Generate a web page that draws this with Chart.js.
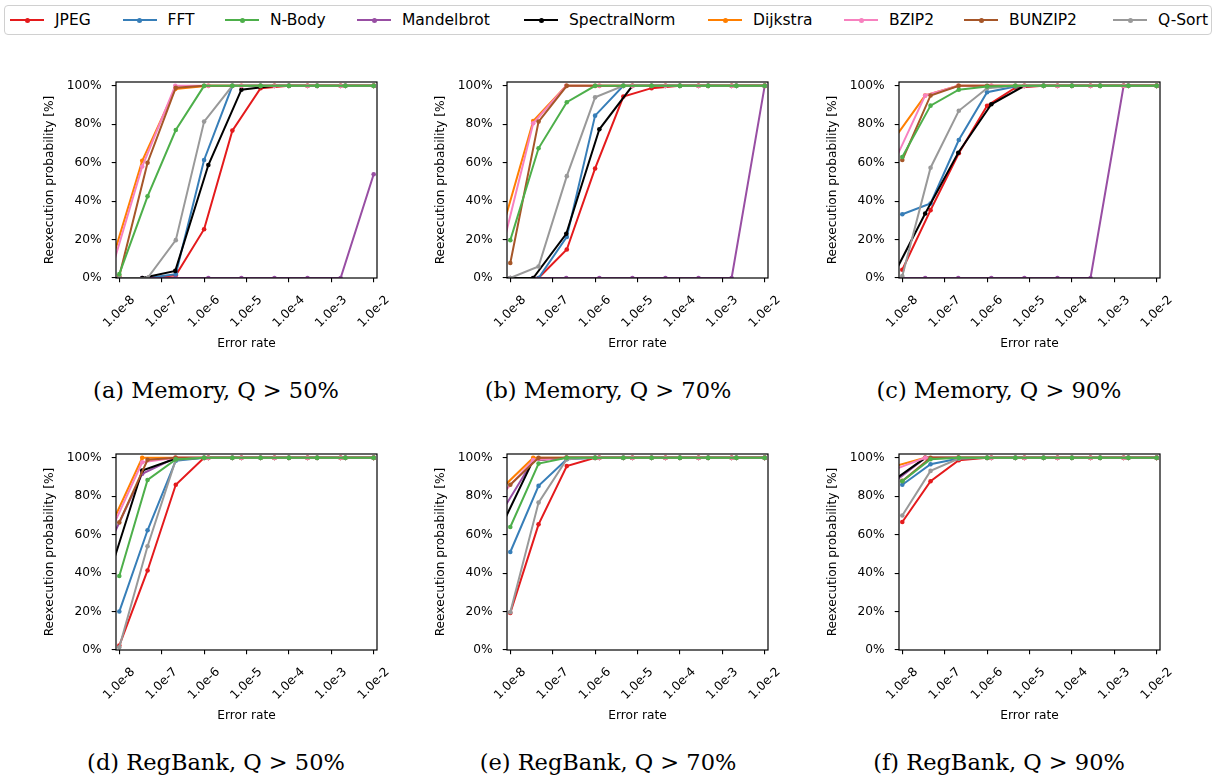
<!DOCTYPE html>
<html>
<head>
<meta charset="utf-8">
<script src="https://cdn.jsdelivr.net/npm/chart.js@4.4.1/dist/chart.umd.min.js"></script>
<style>
  html, body { margin: 0; padding: 0; background: #fff; overflow: hidden; }
  #page { position: absolute; left: 0; top: 0; width: 1217px; height: 783px; }
  #legend { position: absolute; left: 4px; top: 5px; width: 1206px; height: 28px; border: 1px solid #d0d0d0; border-radius: 4px;
            font-family: 'DejaVu Sans'; font-size: 15.5px; color: #000; }
  .item { position: absolute; top: 0; height: 28px; display: flex; align-items: center; white-space: nowrap; }
  .swatch { position: relative; width: 34px; height: 2px; margin-right: 11px; }
  .swatch i { position: absolute; left: 14.5px; top: -1.5px; width: 5px; height: 5px; border-radius: 50%; }
  canvas { position: absolute; }
  .cap { position: absolute; width: 360px; text-align: center; font-family: 'DejaVu Serif'; font-size: 22.5px; line-height: 22.5px; white-space: nowrap; color: #000; }
</style>
</head>
<body>
<div id="page">
  <div id="legend"></div>
</div>
<script>
// series, in legend order
const seriesNames = ['JPEG', 'FFT', 'N-Body', 'Mandelbrot', 'SpectralNorm', 'Dijkstra', 'BZIP2', 'BUNZIP2', 'Q-Sort'];
const seriesColors = ['#e41a1c', '#377eb8', '#4daf4a', '#984ea3', '#000000', '#ff7f00', '#f781bf', '#a65628', '#999999'];

// two error-rate sweeps (the benchmarks were sampled on one or the other)
const ratesA = [1e-8, 4.64e-8, 2.15e-7, 1e-6, 4.64e-6, 2.15e-5, 1e-4, 4.64e-4, 2.15e-3, 1e-2];
const ratesB = [5.75e-9, 3.47e-8, 2.09e-7, 1.26e-6, 7.59e-6, 4.57e-5, 2.75e-4, 1.66e-3, 1e-2];
const seriesSweep = ['A', 'A', 'A', 'B', 'B', 'B', 'B', 'A', 'A'];

const rateTicks = [1e-8, 1e-7, 1e-6, 1e-5, 1e-4, 1e-3, 1e-2];
const rateLabels = ['1.0e-8', '1.0e-7', '1.0e-6', '1.0e-5', '1.0e-4', '1.0e-3', '1.0e-2'];
const probTicks = [0, 20, 40, 60, 80, 100];

// reexecution probability [%], rows in legend order
const mem50 = [
  [0, 0, 1.4, 25.4, 76.7, 98.8, 100, 100, 100, 100],
  [0, 0, 2, 61.4, 100, 100, 100, 100, 100, 100],
  [2, 42.5, 77, 100, 100, 100, 100, 100, 100, 100],
  [0, 0, 0, 0, 0, 0, 0, 0, 54],
  [0, 0, 3.7, 58.8, 98, 100, 100, 100, 100],
  [4, 61, 98.4, 100, 100, 100, 100, 100, 100],
  [0, 58, 100, 100, 100, 100, 100, 100, 100],
  [1, 60, 99, 100, 100, 100, 100, 100, 100, 100],
  [0, 0, 19.7, 81.4, 100, 100, 100, 100, 100, 100]
];
const mem70 = [
  [0, 0, 14.8, 57, 94.4, 98.8, 100, 100, 100, 100],
  [0, 0, 21.4, 84.5, 100, 100, 100, 100, 100, 100],
  [19.7, 67.5, 91.5, 100, 100, 100, 100, 100, 100, 100],
  [0, 0, 0, 0, 0, 0, 0, 0, 100],
  [0, 0, 23, 77.4, 100, 100, 100, 100, 100],
  [21.6, 81.7, 100, 100, 100, 100, 100, 100, 100],
  [11, 80.5, 100, 100, 100, 100, 100, 100, 100],
  [7.8, 81.4, 100, 100, 100, 100, 100, 100, 100, 100],
  [0, 6, 53, 94, 100, 100, 100, 100, 100, 100]
];
const mem90 = [
  [4.3, 35.3, 64.9, 89.6, 99, 100, 100, 100, 100, 100],
  [33.2, 38.8, 71.8, 96.7, 99.6, 100, 100, 100, 100, 100],
  [63, 89.7, 98, 99.6, 100, 100, 100, 100, 100, 100],
  [0, 0, 0, 0, 0, 0, 0, 100, 100],
  [0, 33.6, 65.2, 90.4, 100, 100, 100, 100, 100],
  [71, 95, 100, 100, 100, 100, 100, 100, 100],
  [58, 95, 100, 100, 100, 100, 100, 100, 100],
  [61.4, 95, 100, 100, 100, 100, 100, 100, 100, 100],
  [1, 57.4, 87, 98.8, 100, 100, 100, 100, 100, 100]
];
const reg50 = [
  [2.3, 41.4, 86, 100, 100, 100, 100, 100, 100, 100],
  [20, 62.3, 98.5, 100, 100, 100, 100, 100, 100, 100],
  [38.5, 88.5, 99.2, 100, 100, 100, 100, 100, 100, 100],
  [55, 91.7, 100, 100, 100, 100, 100, 100, 100],
  [39, 93.4, 99.5, 100, 100, 100, 100, 100, 100],
  [62.6, 100, 100, 100, 100, 100, 100, 100, 100],
  [60, 97.7, 100, 100, 100, 100, 100, 100, 100],
  [66.4, 99, 100, 100, 100, 100, 100, 100, 100, 100],
  [1.4, 54, 99, 100, 100, 100, 100, 100, 100, 100]
];
const reg70 = [
  [19.3, 65.4, 95.7, 100, 100, 100, 100, 100, 100, 100],
  [51, 85.4, 99.3, 100, 100, 100, 100, 100, 100, 100],
  [64, 97, 100, 100, 100, 100, 100, 100, 100, 100],
  [70.6, 98.8, 100, 100, 100, 100, 100, 100, 100],
  [63, 98.8, 100, 100, 100, 100, 100, 100, 100],
  [83.3, 100, 100, 100, 100, 100, 100, 100, 100],
  [80, 98.8, 100, 100, 100, 100, 100, 100, 100],
  [86, 100, 100, 100, 100, 100, 100, 100, 100, 100],
  [19.7, 76.7, 99.3, 100, 100, 100, 100, 100, 100, 100]
];
const reg90 = [
  [66.6, 87.8, 98.8, 100, 100, 100, 100, 100, 100, 100],
  [86, 96.7, 99.6, 100, 100, 100, 100, 100, 100, 100],
  [87.8, 99.3, 100, 100, 100, 100, 100, 100, 100, 100],
  [86.6, 100, 100, 100, 100, 100, 100, 100, 100],
  [87.7, 100, 100, 100, 100, 100, 100, 100, 100],
  [95.3, 100, 100, 100, 100, 100, 100, 100, 100],
  [93.5, 100, 100, 100, 100, 100, 100, 100, 100],
  [88, 100, 100, 100, 100, 100, 100, 100, 100, 100],
  [70, 93.2, 99.6, 100, 100, 100, 100, 100, 100, 100]
];

const panelCaptions = ['(a) Memory, Q > 50%', '(b) Memory, Q > 70%', '(c) Memory, Q > 90%',
                       '(d) RegBank, Q > 50%', '(e) RegBank, Q > 70%', '(f) RegBank, Q > 90%'];
const panelData = [mem50, mem70, mem90, reg50, reg70, reg90];

// layout (px)
const colLeft = [26, 416.7, 808.7];
const rowTop = [62.2, 433.8];
const capCenter = [216, 608, 999];
const capTop = [379.3, 750.9];
const legendX = [5, 117.5, 220, 352, 519, 703, 839, 959, 1108];

Chart.defaults.font.family = "'DejaVu Sans', sans-serif";
Chart.defaults.color = '#000';

const page = document.getElementById('page');

// legend
const legend = document.getElementById('legend');
seriesNames.forEach((name, i) => {
  const it = document.createElement('div');
  it.className = 'item';
  it.style.left = legendX[i] + 'px';
  it.innerHTML = `<span class="swatch" style="background:${seriesColors[i]}"><i style="background:${seriesColors[i]}"></i></span><span>${name}</span>`;
  legend.appendChild(it);
});

// box around the plotting area, like matplotlib spines
const framePlugin = {
  id: 'frame',
  afterDatasetsDraw(chart) {
    const a = chart.chartArea;
    const ctx = chart.ctx;
    ctx.save();
    ctx.strokeStyle = '#000';
    ctx.lineWidth = 1.2;
    ctx.strokeRect(a.left, a.top, a.right - a.left, a.bottom - a.top);
    ctx.restore();
  }
};

panelData.forEach((rows, p) => {
  const col = p % 3, row = Math.floor(p / 3);
  const cv = document.createElement('canvas');
  cv.width = 375;
  cv.height = 306;
  cv.style.left = colLeft[col] + 'px';
  cv.style.top = rowTop[row] + 'px';
  page.appendChild(cv);

  const cap = document.createElement('div');
  cap.className = 'cap';
  cap.textContent = panelCaptions[p];
  cap.style.left = (capCenter[col] - 180) + 'px';
  cap.style.top = capTop[row] + 'px';
  page.appendChild(cap);

  const datasets = rows.map((vals, i) => {
    const rates = seriesSweep[i] === 'A' ? ratesA : ratesB;
    return {
      label: seriesNames[i],
      data: rates.map((r, k) => ({ x: r, y: vals[k] })),
      borderColor: seriesColors[i],
      backgroundColor: seriesColors[i],
      pointBackgroundColor: seriesColors[i],
      // N-Body ends up on top, otherwise later series over earlier ones
      order: i === 2 ? 0 : 9 - i
    };
  });

  new Chart(cv.getContext('2d'), {
    type: 'line',
    data: { datasets },
    plugins: [framePlugin],
    options: {
      responsive: false,
      animation: false,
      events: [],
      layout: { padding: { left: 0, top: 20, right: 24, bottom: 0 } },
      plugins: { legend: { display: false }, tooltip: { enabled: false } },
      elements: {
        line: { borderWidth: 2, tension: 0, fill: false },
        point: { radius: 2.3, borderWidth: 0, hoverRadius: 2.3 }
      },
      scales: {
        x: {
          type: 'logarithmic',
          bounds: 'data',
          min: 8.36e-9,
          max: 1.197e-2,
          afterBuildTicks: s => { s.ticks = rateTicks.map(v => ({ value: v })); },
          afterFit: s => { s.height = 90; },
          ticks: {
            autoSkip: false, minRotation: 45, maxRotation: 45,
            labelOffset: 13.8, padding: 10.5,
            font: { size: 12.2 },
            callback: (v, i) => rateLabels[i]
          },
          grid: { drawOnChartArea: false, tickLength: 4.3, lineWidth: 1.1, color: '#000' },
          border: { display: false },
          title: { display: true, text: 'Error rate', font: { size: 12.2 }, padding: { top: 0, bottom: 16.4 } }
        },
        y: {
          bounds: 'data',
          min: 0,
          max: 102,
          afterBuildTicks: s => { s.ticks = probTicks.map(v => ({ value: v })); },
          afterFit: s => { s.width = 90; },
          ticks: { padding: 10, font: { size: 12.2 }, callback: v => v + '%' },
          grid: { drawOnChartArea: false, tickLength: 4.3, lineWidth: 1.1, color: '#000' },
          border: { display: false },
          title: { display: true, text: 'Reexecution probability [%]', font: { size: 12.2 }, padding: { top: 16.7, bottom: 0 } }
        }
      }
    }
  });
});
</script>
</body>
</html>
